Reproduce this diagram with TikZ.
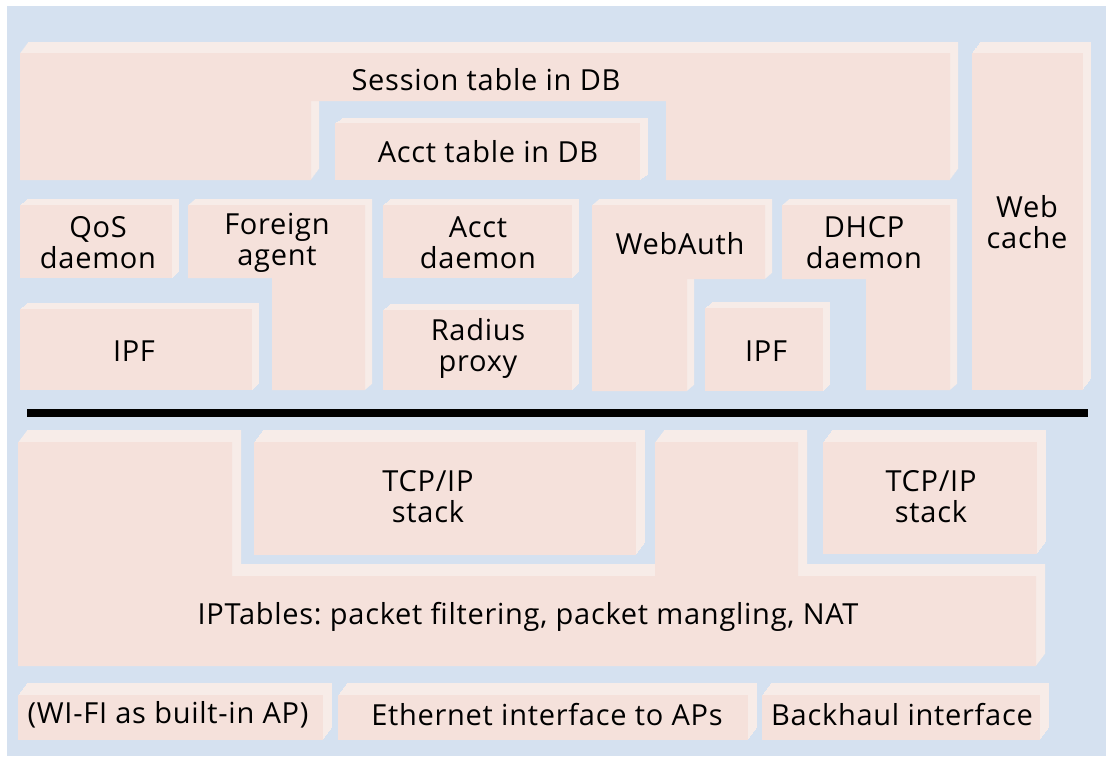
\documentclass[tikz,border=0pt]{standalone}
\usepackage{fontspec}
\setmainfont{Open Sans}[LetterSpace=2.5]
\usepackage{tikz}
\frenchspacing
\definecolor{myBlue}{RGB}{213,225,240}
\definecolor{myPink}{RGB}{245,225,219}
\definecolor{myLight}{RGB}{247,236,232}
\tikzset{
myFace/.style={fill=myPink, draw=none}
, myBevel/.style={fill=myLight, draw=none}
, myLabel/.style={
	align=center, inner sep=0pt, text=black,
	font=\fontsize{14.5}{15.5}\selectfont
}
, myBus/.style={line width=4pt, draw=black}
}
% #1, #2: depth of the bevel (right, up); #3: outline of the face
\newcommand{\mySlab}[3]{%
	\foreach \k in {1,...,12}{
		\fill[myBevel, shift={({\k*#1/12},{-\k*#2/12})}] #3;
	}
	\fill[myFace] #3;
}

\begin{document}
\begin{tikzpicture}[x=0.5pt, y=-0.5pt]
	\useasboundingbox (0,0) rectangle (1106,756);
	\fill[myBlue] (7,6) rectangle (1106,756);

	% upper layer
	\mySlab{8}{11}{(20,53) -- (950,53) -- (950,180) -- (666,180) -- (666,101) -- (311,101) -- (311,180) -- (20,180) -- cycle}
	\mySlab{8}{5}{(335,123) rectangle (640,180)}
	\mySlab{8}{11}{(972,53) rectangle (1083,390)}
	\mySlab{7}{6}{(20,205) rectangle (172,278)}
	\mySlab{7}{6}{(188,205) -- (365,205) -- (365,390) -- (272,390) -- (272,278) -- (188,278) -- cycle}
	\mySlab{7}{6}{(20,309) rectangle (252,390)}
	\mySlab{7}{6}{(383,205) rectangle (572,278)}
	\mySlab{7}{6}{(383,310) rectangle (572,390)}
	\mySlab{7}{6}{(592,205) -- (765,205) -- (765,279) -- (687,279) -- (687,391) -- (592,391) -- cycle}
	\mySlab{7}{6}{(705,308) rectangle (823,391)}
	\mySlab{7}{6}{(782,205) -- (950,205) -- (950,390) -- (866,390) -- (866,279) -- (782,279) -- cycle}

	% lower layer
	\mySlab{9}{12}{(18,442) -- (232,442) -- (232,576) -- (655,576) -- (655,442) -- (798,442) -- (798,576) -- (1036,576) -- (1036,666) -- (18,666) -- cycle}
	\mySlab{9}{12}{(254,442) rectangle (636,555)}
	\mySlab{9}{12}{(823,442) rectangle (1037,554)}
	\mySlab{9}{12}{(18,695) rectangle (323,740)}
	\mySlab{9}{12}{(338,695) rectangle (748,740)}
	\mySlab{9}{12}{(762,695) rectangle (1040,740)}

	% bus
	\coordinate (busW) at (27,413);
	\coordinate (busE) at (1088,413);
	\draw[myBus] (busW) -- (busE);

	% labels
	\node[myLabel] (sessionTable) at (486,80) {Session table in DB};
	\node[myLabel] (acctTable) at (488,152) {Acct table in DB};
	\node[myLabel] (qosDaemon) at (98,243) {QoS\\daemon};
	\node[myLabel] (foreignAgent) at (277,243) {Foreign\\agent};
	\node[myLabel] (acctDaemon) at (478,243) {Acct\\daemon};
	\node[myLabel] (webAuth) at (680,244) {WebAuth};
	\node[myLabel] (dhcpDaemon) at (864,243) {DHCP\\daemon};
	\node[myLabel] (webCache) at (1027,222) {Web\\cache};
	\node[myLabel] (ipfLeft) at (134,351) {IPF};
	\node[myLabel] (radiusProxy) at (478,348) {Radius\\proxy};
	\node[myLabel] (ipfRight) at (766,351) {IPF};
	\node[myLabel] (tcpLeft) at (428,497) {TCP/IP\\stack};
	\node[myLabel] (tcpRight) at (931,497) {TCP/IP\\stack};
	\node[myLabel] (ipTables) at (528,617) {IPTables: packet filtering, packet mangling, NAT};
	\node[myLabel] (wifi) at (168,715) {(WI-FI as built-in AP)};
	\node[myLabel] (ethernet) at (547,715) {Ethernet interface to APs};
	\node[myLabel] (backhaul) at (902,715) {Backhaul interface};
\end{tikzpicture}
\end{document}
